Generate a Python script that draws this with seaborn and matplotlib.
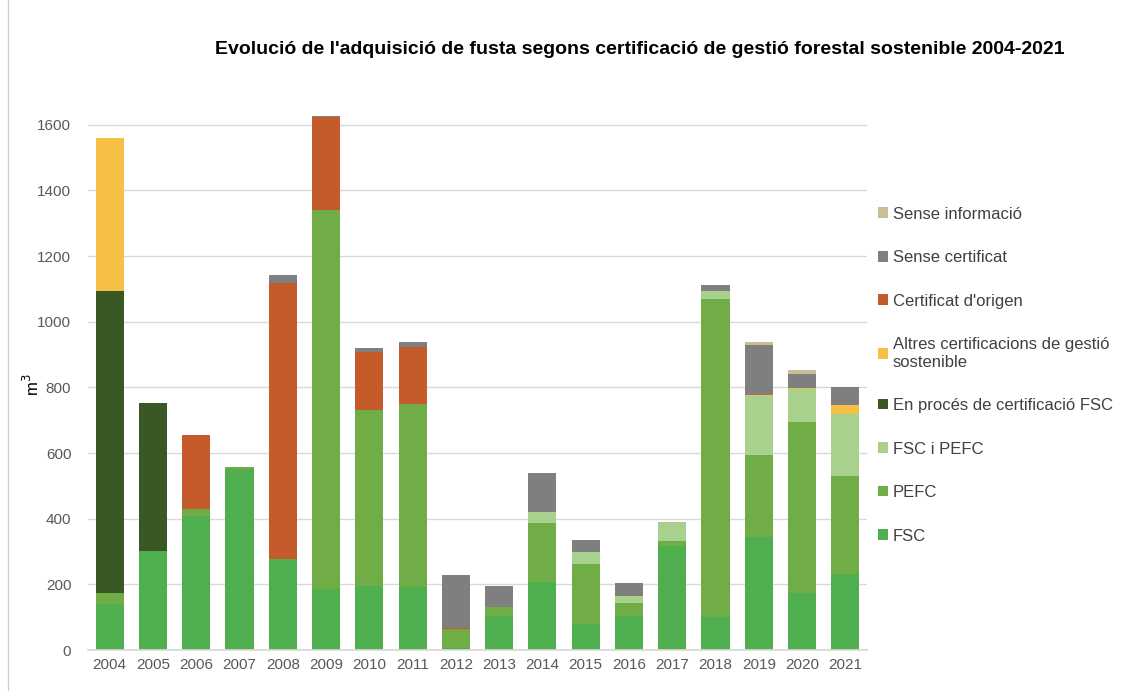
import pandas as pd
import matplotlib
matplotlib.use('Agg')
import matplotlib.pyplot as plt
import seaborn as sns
from matplotlib.lines import Line2D

# Anys i categories (ordre de dalt a baix a la pila / llegenda)
anys = list(range(2004, 2022))
categories = [
    'Sense informació',
    'Sense certificat',
    "Certificat d'origen",
    'Altres certificacions de gestió\nsostenible',
    'En procés de certificació FSC',
    'FSC i PEFC',
    'PEFC',
    'FSC',
]

# Valors llegits del gràfic (m3)
fsc = [140, 303, 407, 551, 278, 186, 196, 193, 5, 104, 208, 78, 105, 318, 102, 344, 175, 232]
pefc = [35, 0, 24, 6, 0, 1154, 536, 555, 58, 26, 179, 183, 39, 14, 967, 249, 519, 297]
fsc_pefc = [0, 0, 0, 0, 0, 0, 0, 0, 0, 0, 33, 39, 21, 58, 24, 180, 102, 189]
en_proces = [919, 450, 0, 0, 0, 0, 0, 0, 0, 0, 0, 0, 0, 0, 0, 0, 0, 0]
altres = [465, 0, 0, 0, 0, 0, 0, 0, 0, 0, 0, 0, 0, 0, 0, 3, 3, 29]
cert_origen = [0, 0, 224, 0, 841, 283, 175, 175, 5, 0, 0, 0, 0, 0, 0, 0, 0, 0]
sense_cert = [0, 0, 0, 0, 24, 5, 14, 16, 161, 66, 118, 36, 40, 0, 18, 153, 42, 54]
sense_info = [0, 0, 0, 0, 0, 0, 0, 0, 0, 0, 0, 0, 0, 0, 0, 9, 11, 0]

colors = ['#C8BE98', '#7F7F7F', '#C55A2B', '#F8BF45',
          '#3A5824', '#A9D18E', '#70AD47', '#4FAF4F']

series = [sense_info, sense_cert, cert_origen, altres, en_proces, fsc_pefc, pefc, fsc]
rows = []
for cat, vals in zip(categories, series):
    for a, v in zip(anys, vals):
        rows.append({'Any': a, 'Categoria': cat, 'm3': v})
df = pd.DataFrame(rows)

sns.set_theme(style='white')
plt.rcParams['font.family'] = ['Liberation Sans', 'DejaVu Sans']

fig = plt.figure(figsize=(11.31, 6.91), dpi=100)
ax = fig.add_axes([0.0778, 0.0593, 0.6888, 0.8076])

sns.histplot(
    data=df, x='Any', weights='m3', hue='Categoria',
    hue_order=categories, palette=colors,
    multiple='stack', discrete=True, shrink=0.65,
    alpha=1, linewidth=0, ax=ax
)

ax.set_xlim(2003.5, 2021.5)
ax.set_ylim(0, 1700)
ax.set_xticks(anys)
ax.set_xticklabels([str(a) for a in anys])
ax.set_yticks(range(0, 1601, 200))
ax.yaxis.grid(True, color='#D9D9D9', linewidth=1)
ax.set_axisbelow(True)
for s in ['top', 'right', 'left']:
    ax.spines[s].set_visible(False)
ax.spines['bottom'].set_color('#D9D9D9')
ax.tick_params(axis='both', length=0, labelsize=11, colors='#595959')
ax.tick_params(axis='x', pad=6)
ax.tick_params(axis='y', pad=12)
ax.set_xlabel('')
ax.set_ylabel('m$^3$', fontsize=12, color='black')
ax.yaxis.set_label_coords(-0.059, 0.475)

sns.move_legend(
    ax, loc='upper left', bbox_to_anchor=(0.776, 0.701),
    bbox_transform=fig.transFigure, frameon=False, title=None,
    fontsize=12, handlelength=0.6, handleheight=0.6, handletextpad=0.3,
    labelspacing=1.71, borderpad=0, borderaxespad=0
)
for t in ax.get_legend().get_texts():
    t.set_color('#404040')

fig.text(0.566, 0.928,
         "Evolució de l'adquisició de fusta segons certificació de gestió forestal sostenible 2004-2021",
         ha='center', va='center', fontsize=14, fontweight='bold', color='black',
         family=['Liberation Sans Narrow', 'Liberation Sans', 'DejaVu Sans'])

fig.add_artist(Line2D([0.007, 0.007], [0, 1], transform=fig.transFigure,
                      color='#D0D0D0', linewidth=1))

fig.savefig('out.png', dpi=100)
